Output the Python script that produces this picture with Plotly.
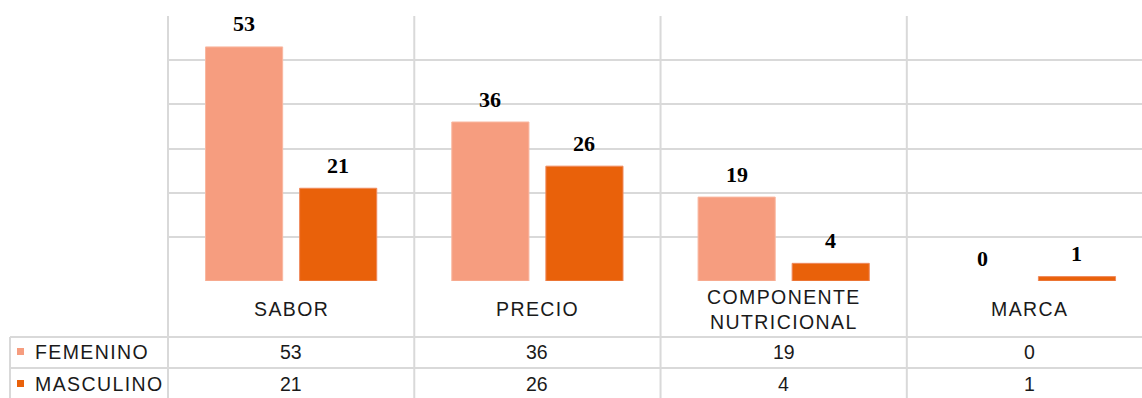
import plotly.graph_objects as go

# Survey data: reasons for choosing a product, by gender
categories = ["SABOR", "PRECIO", "COMPONENTE<br>NUTRICIONAL", "MARCA"]
series_names = ["FEMENINO", "MASCULINO"]
femenino = [53, 36, 19, 0]
masculino = [21, 26, 4, 1]
y_ticks = [0, 10, 20, 30, 40, 50, 60]

colors = {"FEMENINO": "#F69D7F", "MASCULINO": "#E9610A"}
edge_colors = {"FEMENINO": "#F9B7A0", "MASCULINO": "#EF8A5E"}
grid_color = "#D9D9D9"

W, H = 1142, 398
M_L, M_R, M_T, M_B = 168, 0, 16, 117
plot_h = H - M_T - M_B
plot_w = W - M_L - M_R


def py(pix_y):
    """Pixel row -> paper y coordinate."""
    return (H - M_B - pix_y) / plot_h


def px(pix_x):
    """Pixel column -> paper x coordinate."""
    return (pix_x - M_L) / plot_w


def spaced(txt):
    return f'<span style="letter-spacing:1.4px">{txt}</span>'


x_idx = list(range(len(categories)))
series = {"FEMENINO": femenino, "MASCULINO": masculino}

fig = go.Figure()
for name in series_names:
    vals = series[name]
    fig.add_trace(go.Bar(
        x=x_idx, y=vals, name=name,
        marker=dict(color=colors[name],
                    line=dict(color=edge_colors[name],
                              width=[1 if v > 0 else 0 for v in vals])),
        showlegend=False,
    ))

annotations = []
shift = {"FEMENINO": -47, "MASCULINO": 47}
label_font = dict(family="Liberation Serif", size=22, color="#000000")
table_font = dict(family="Liberation Sans", size=19.5, color="#1a1a1a")

# value labels above bars
for name in series_names:
    for i, v in enumerate(series[name]):
        annotations.append(dict(
            x=i, y=v, xref="x", yref="y", text=f"<b>{v}</b>", showarrow=False,
            xshift=shift[name], yshift=23, yanchor="middle", font=label_font,
        ))

# data table under the plot
row_y = {"cat": py(309), "FEMENINO": py(352), "MASCULINO": py(384)}
for i, cat in enumerate(categories):
    cat_txt = "<br>".join(spaced(part) for part in cat.split("<br>"))
    annotations.append(dict(x=i, y=row_y["cat"], xref="x", yref="paper", text=cat_txt,
                            showarrow=False, yanchor="middle", font=table_font))
    for name in series_names:
        annotations.append(dict(x=i, y=row_y[name], xref="x", yref="paper",
                                text=str(series[name][i]), showarrow=False,
                                yanchor="middle", font=table_font))

line = dict(color=grid_color, width=2)
shapes = [
    # left border of plot + table
    dict(type="line", xref="paper", yref="paper", x0=0, x1=0, y0=py(H), y1=1, line=line),
    # table left column border
    dict(type="line", xref="paper", yref="paper", x0=px(10), x1=px(10), y0=py(H), y1=py(337), line=line),
    # table row separators
    dict(type="line", xref="paper", yref="paper", x0=px(10), x1=1, y0=py(337), y1=py(337), line=line),
    dict(type="line", xref="paper", yref="paper", x0=px(10), x1=1, y0=py(368), y1=py(368), line=line),
]

# row headers with legend keys
key_centre = {"FEMENINO": 351.5, "MASCULINO": 383.5}
for name in series_names:
    c = key_centre[name]
    shapes.append(dict(type="rect", xref="paper", yref="paper",
                       x0=px(17), x1=px(24), y0=py(c + 3.5), y1=py(c - 3.5),
                       fillcolor=colors[name], line=dict(width=0)))
    annotations.append(dict(
        x=px(33), y=row_y[name], xref="paper", yref="paper", xanchor="left",
        yanchor="middle", showarrow=False, font=table_font, text=spaced(name),
    ))

# category separators
for b in [i + 0.5 for i in x_idx[:-1]]:
    shapes.append(dict(type="line", xref="x", yref="paper", x0=b, x1=b,
                       y0=py(H), y1=1, line=line, layer="below"))

fig.update_layout(
    width=W, height=H,
    margin=dict(l=M_L, r=M_R, t=M_T, b=M_B),
    paper_bgcolor="white", plot_bgcolor="white",
    barmode="group", bargap=0.236, bargroupgap=0.18,
    xaxis=dict(range=[-0.5, 3.455], showticklabels=False, showgrid=False,
               zeroline=False, showline=False, ticks=""),
    yaxis=dict(range=[0, 60], tickvals=y_ticks, showticklabels=False,
               showgrid=True, gridcolor=grid_color, gridwidth=2,
               zeroline=False, showline=False, ticks=""),
    annotations=annotations,
    shapes=shapes,
)

fig.write_html("out.html")
